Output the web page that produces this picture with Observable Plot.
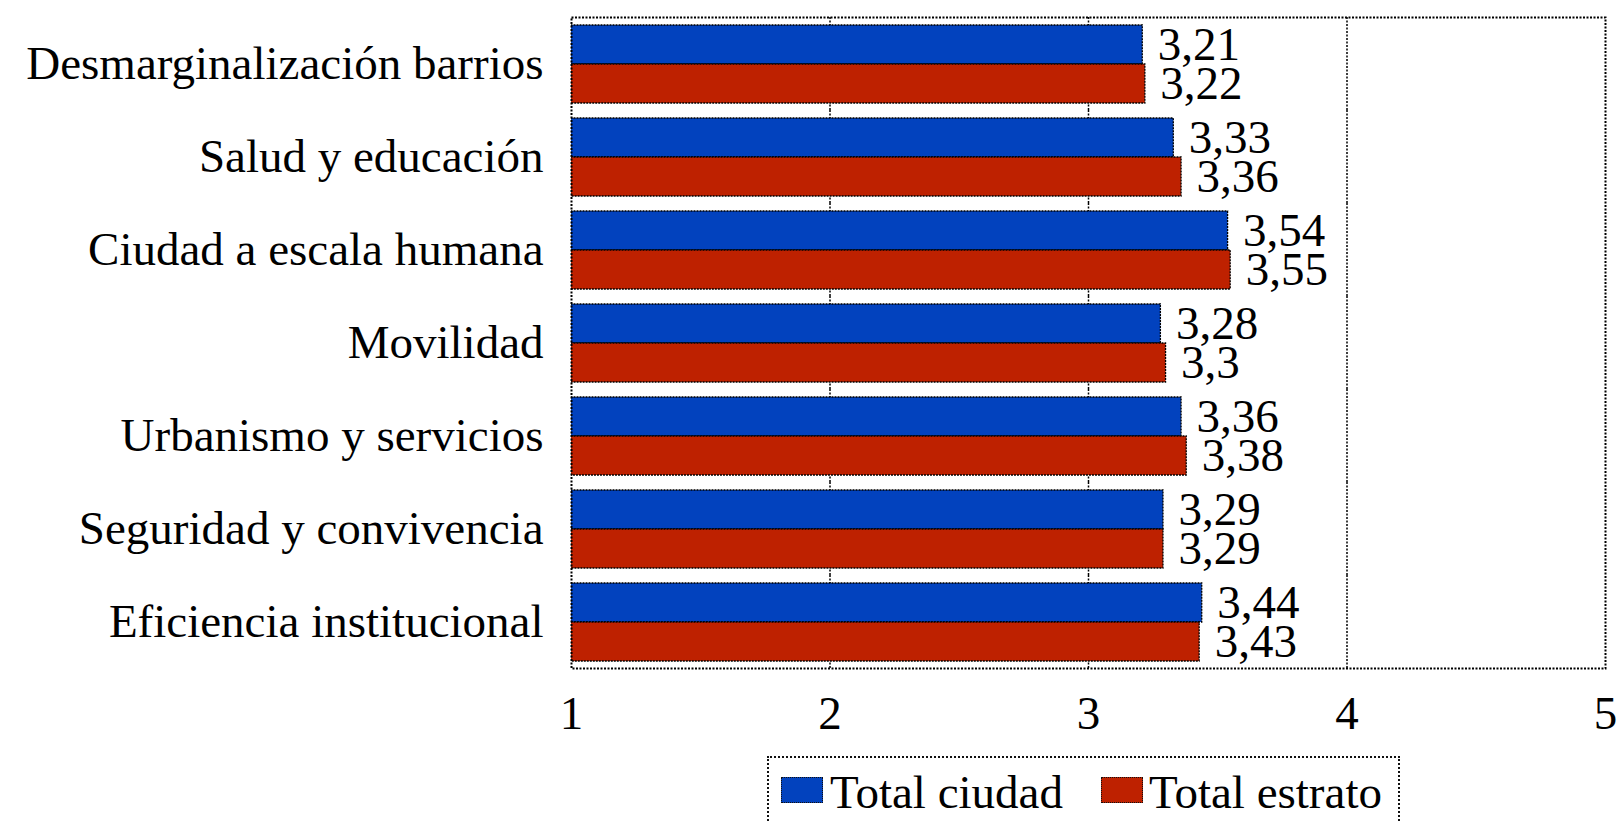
<!DOCTYPE html>
<html><head><meta charset="utf-8">
<script src="https://cdn.jsdelivr.net/npm/d3@7"></script>
<script src="https://cdn.jsdelivr.net/npm/@observablehq/plot@0.6"></script>
<style>
body{margin:0;background:#fff;font-family:"Liberation Serif","Times New Roman",serif;}
#wrap{position:relative;width:1621px;height:822px;overflow:hidden;}
#legend{position:absolute;left:767px;top:756px;width:633px;height:100px;border:2px dotted #111;box-sizing:border-box;}
.sw{position:absolute;width:42px;height:26px;box-sizing:border-box;border:1px dotted #111;}
.lt{position:absolute;font-size:47px;line-height:1;color:#000;white-space:nowrap;}
</style></head><body><div id="wrap"></div>
<script>
const categories = ["Desmarginalización barrios","Salud y educación","Ciudad a escala humana","Movilidad","Urbanismo y servicios","Seguridad y convivencia","Eficiencia institucional"];
const series = ["Total ciudad","Total estrato"];
const ciudad = [3.21,3.33,3.54,3.28,3.36,3.29,3.44];
const estrato = [3.22,3.36,3.55,3.3,3.38,3.29,3.43];
const colors = ["#0242BE","#BE2100"];
const xTicks = [1,2,3,4,5];
const gridValues = [2,3,4];

const data = categories.flatMap((c,i)=>[
  {category:c, series:series[0], value:ciudad[i]},
  {category:c, series:series[1], value:estrato[i]}
]);
const fmt = v => String(v).replace(".", ",");

const plot = Plot.plot({
  width:1621, height:752,
  marginLeft:571, marginRight:16, marginTop:14, marginBottom:81,
  style:{fontFamily:'"Liberation Serif","Times New Roman",serif', fontSize:"47px", color:"#000", background:"transparent"},
  x:{domain:[1,5], ticks:xTicks, tickFormat:d=>String(d), tickSize:0, tickPadding:27, label:null},
  y:{domain:series, axis:null, paddingInner:0, paddingOuter:0.19},
  fy:{domain:categories, padding:0, label:null, tickSize:0, tickPadding:28, axis:"left"},
  color:{domain:series, range:colors},
  marks:[
    Plot.ruleX(gridValues, {stroke:"#000", strokeWidth:1.5, strokeDasharray:"2,1.5"}),
    Plot.barX(data, {fy:"category", y:"series", x:"value", fill:"series", stroke:"#000", strokeWidth:1.3, strokeDasharray:"2,1", clip:true}),
    Plot.text(data, {fy:"category", y:"series", x:"value", text:d=>fmt(d.value), textAnchor:"start", dx:15, fontSize:47, fill:"#000"}),
    Plot.frame({facet:"super", stroke:"#000", strokeWidth:2, strokeDasharray:"2,1.5"})
  ]
});
const wrap = document.getElementById("wrap");
wrap.appendChild(plot);

const legend = document.createElement("div");
legend.id = "legend";
wrap.appendChild(legend);
const items = [
  {label:series[0], color:colors[0], sw:781, tx:830},
  {label:series[1], color:colors[1], sw:1101, tx:1149}
];
for (const it of items) {
  const s = document.createElement("div");
  s.className = "sw"; s.style.background = it.color;
  s.style.left = it.sw + "px"; s.style.top = "777px";
  wrap.appendChild(s);
  const t = document.createElement("div");
  t.className = "lt"; t.textContent = it.label;
  t.style.left = it.tx + "px"; t.style.top = "769px";
  wrap.appendChild(t);
}
</script></body></html>
